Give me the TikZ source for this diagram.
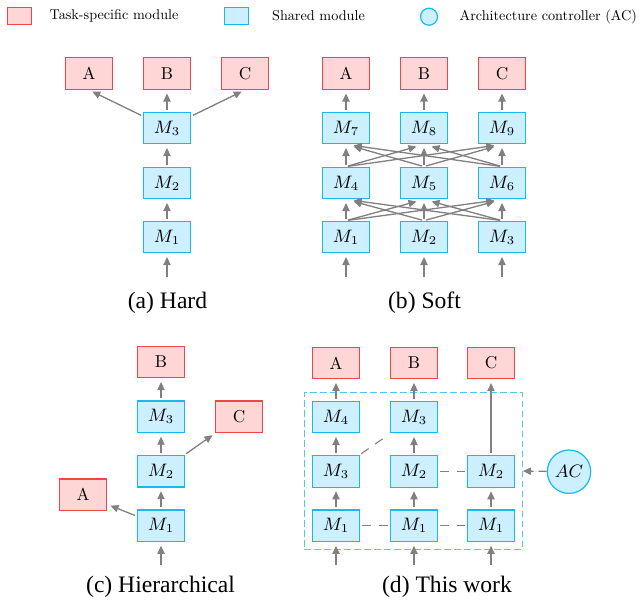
\documentclass[tikz,border=0pt]{standalone}
\usepackage{fontspec}
\newfontfamily\capfont{Liberation Serif}
\newfontfamily\legfont{lmroman10-regular}[Extension=.otf]
\usetikzlibrary{arrows.meta}
\definecolor{taskFill}{RGB}{255,214,214}
\definecolor{taskLine}{RGB}{240,70,70}
\definecolor{sharedFill}{RGB}{204,240,255}
\definecolor{sharedLine}{RGB}{25,185,240}
\definecolor{arrowGray}{RGB}{128,128,128}
\definecolor{frameLine}{RGB}{80,200,240}

\begin{document}
\begin{tikzpicture}
[x=0.5pt,y=-0.5pt,
  taskDecorate/.style={shape=rectangle,draw=taskLine,fill=taskFill,line width=0.6pt,%
    minimum width=23.5pt,minimum height=15.8pt,inner sep=0pt,font=\legfont\fontsize{8.6}{10}\selectfont},%
  sharedDecorate/.style={taskDecorate,draw=sharedLine,fill=sharedFill,font=\fontsize{9}{10}\selectfont},%
  ctrlDecorate/.style={shape=circle,draw=sharedLine,fill=sharedFill,line width=0.6pt,%
    minimum size=21.7pt,inner sep=0pt,font=\fontsize{9}{10}\selectfont},%
  frameDecorate/.style={shape=rectangle,draw=frameLine,line width=0.6pt,%
    dash pattern=on 3.3pt off 1.7pt,minimum width=109pt,minimum height=78.3pt,inner sep=0pt},%
  arrowDecorate/.style={-{Triangle[length=4pt,width=3.6pt]},draw=arrowGray,fill=arrowGray,%
    line width=0.65pt,shorten <=1pt,shorten >=1.8pt},%
  crossDecorate/.style={arrowDecorate,shorten >=3.9pt},%
  linkDecorate/.style={-,draw=arrowGray,line width=0.55pt,dash pattern=on 4.5pt off 4pt,%
    shorten <=1pt,shorten >=1pt},%
  ctrlArrow/.style={arrowDecorate,dash pattern=on 4pt off 2.5pt,shorten <=0pt,shorten >=0pt},%
  captionDecorate/.style={font=\capfont\fontsize{11.8}{14}\selectfont,inner sep=0pt},%
  legendDecorate/.style={anchor=west,inner sep=0pt,font=\legfont\fontsize{7.1}{8.5}\selectfont}]
\useasboundingbox (0,0) rectangle (640,601);
%% legend
\node (legRed) at (19.5,15.7) [taskDecorate,minimum width=12pt,minimum height=8.5pt] {};
\node (legTask) at (49.3,16) [legendDecorate] {Task-specific module};
\node (legBlue) at (236.5,15.7) [sharedDecorate,minimum width=12pt,minimum height=8.5pt] {};
\node (legShared) at (271.7,16) [legendDecorate] {Shared module};
\node (legCirc) at (429,16.7) [ctrlDecorate,minimum size=8.5pt] {};
\node (legCtrl) at (459.3,16.5) [legendDecorate] {Architecture controller (AC)};
%% task nodes
\foreach \nodename/\x/\y/\lab in {aA/89/73.5/A, aB/167/73.5/B, aC/245/73.5/C,
  bA/346/73.5/A, bB/424/73.5/B, bC/502/73.5/C,
  cB/161/362/B, cC/239/416.7/C, cA/83/494.7/A,
  dA/336/363/A, dB/414/363/B, dC/491/363/C}
{
  \node (\nodename) at (\x,\y) [taskDecorate] {\lab};
}
%% shared nodes
\foreach \nodename/\x/\y/\lab in {a3/167/128/3, a2/167/183/2, a1/167/237/1,
  b7/346/128/7, b8/424/128/8, b9/502/128/9,
  b4/346/183/4, b5/424/183/5, b6/502/183/6,
  b1/346/237/1, b2/424/237/2, b3/502/237/3,
  c3/161/416.7/3, c2/161/471.2/2, c1/161/525.8/1,
  dx4/336/417/4, dx3/336/471.3/3, dx1/336/525.8/1,
  dy3/414/417/3, dy2/414/471.3/2, dy1/414/525.8/1,
  dz2/491/471.3/2, dz1/491/525.8/1}
{
  \node (\nodename) at (\x,\y) [sharedDecorate] {$M_{\lab}$};
}
%% controller and its frame
\node (frame) at (413.3,471) [frameDecorate] {};
\node (ac) at (569,471.7) [ctrlDecorate] {$AC$};
%% inputs
\foreach \nodename/\x/\y in {ai/167/279, bi1/346/279, bi2/424/279, bi3/502/279,
  ci/161/567, di1/336/567, di2/414/567, di3/491/567}
{
  \coordinate (\nodename) at (\x,\y);
}
%% arrows
\path
\foreach \startnode/\endnode in {ai/a1, a1/a2, a2/a3, a3/aB, a3/aA.south, a3/aC.south,
  bi1/b1, bi2/b2, bi3/b3, b1/b4, b2/b5, b3/b6, b4/b7, b5/b8, b6/b9, b7/bA, b8/bB, b9/bC,
  ci/c1, c1/c2, c2/c3, c3/cB, c1/cA, c2/cC,
  di1/dx1, di2/dy1, di3/dz1, dx1/dx3, dx3/dx4, dx4/dA,
  dy1/dy2, dy2/dy3, dy3/dB, dz1/dz2, dz2/dC}
{
  (\startnode) edge[arrowDecorate] (\endnode)
};
\path
\foreach \startnode/\endnode in {b1/b5, b1/b6, b2/b4, b2/b6, b3/b4, b3/b5,
  b4/b8, b4/b9, b5/b7, b5/b9, b6/b7, b6/b8}
{
  (\startnode.north) edge[crossDecorate] (\endnode.south)
};
%% dashed links
\path
\foreach \startnode/\endnode in {dx1/dy1, dy1/dz1, dy2/dz2}
{
  (\startnode) edge[linkDecorate] (\endnode)
};
\path (dx3) edge[linkDecorate,shorten >=3.8pt] (dy3);
\path (ac) edge[ctrlArrow] (frame.east);
%% captions
\node (capA) at (167.5,303) [captionDecorate] {(a) Hard};
\node (capB) at (424.5,303) [captionDecorate] {(b) Soft};
\node (capC) at (160.5,587) [captionDecorate] {(c) Hierarchical};
\node (capD) at (447,587) [captionDecorate] {(d) This work};
\end{tikzpicture}
\end{document}
